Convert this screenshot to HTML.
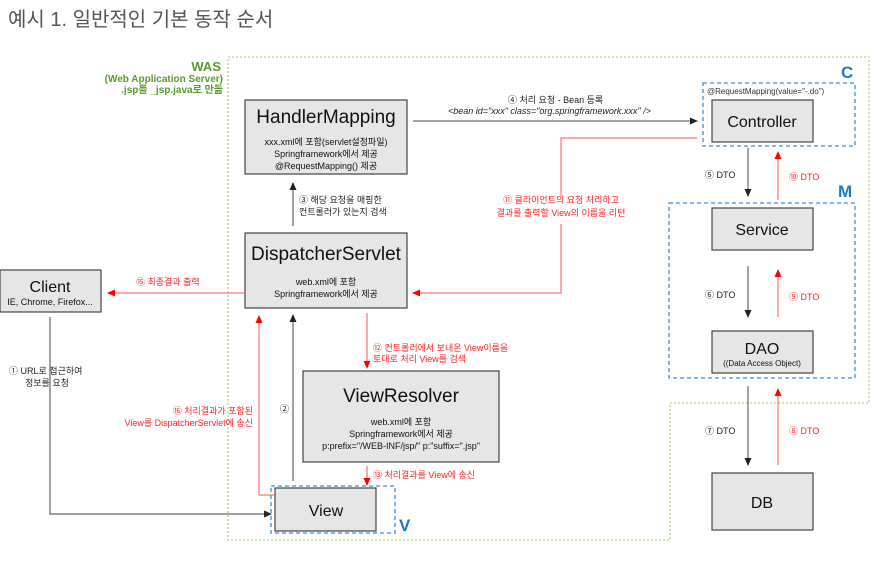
<!DOCTYPE html>
<html><head><meta charset="utf-8"><style>
body{margin:0;background:#fff;}
svg text{font-family:"Liberation Sans","Noto Sans CJK KR",sans-serif;}
</style></head><body>
<svg width="883" height="556" viewBox="0 0 883 556" xmlns="http://www.w3.org/2000/svg">
<defs>
<marker id="ab" markerWidth="8" markerHeight="8" refX="7" refY="4" orient="auto" markerUnits="userSpaceOnUse"><path d="M0,0.5 L8,4 L0,7.5z" fill="#222"/></marker>
<marker id="ar" markerWidth="8" markerHeight="8" refX="7" refY="4" orient="auto" markerUnits="userSpaceOnUse"><path d="M0,0.5 L8,4 L0,7.5z" fill="#f00"/></marker>
</defs>
<text x="8" y="26" font-size="20" fill="#555">예시 1. 일반적인 기본 동작 순서</text>
<!-- WAS -->
<path d="M228,57 H869 V403 H670 V540 H228 Z" fill="none" stroke="#9c6" stroke-width="1" stroke-dasharray="2,2"/>
<g fill="#5a9a2e" font-weight="bold" text-anchor="end">
<text x="221" y="71" font-size="13">WAS</text>
<text x="223" y="82" font-size="10">(Web Application Server)</text>
<text x="223" y="93" font-size="10">.jsp를 _jsp.java로 만듦</text>
</g>
<!-- dashed groups -->
<g fill="none" stroke="#3a8fd8" stroke-width="1.3" stroke-dasharray="4,3">
<rect x="703" y="83" width="152" height="63"/>
<rect x="669" y="203" width="186" height="175"/>
<rect x="271" y="486" width="124" height="47"/>
</g>
<g fill="#1a7acb" font-weight="bold" font-size="17">
<text x="841" y="78">C</text><text x="838" y="197">M</text><text x="399" y="531">V</text>
</g>
<text x="707" y="94" font-size="8" fill="#333">@RequestMapping(value="-.do")</text>
<!-- boxes -->
<g fill="#e6e6e6" stroke="#444" stroke-width="1.2">
<rect x="245" y="100" width="162" height="74"/>
<rect x="245" y="233" width="162" height="75"/>
<rect x="0" y="270" width="101" height="42"/>
<rect x="303" y="371" width="196" height="91"/>
<rect x="275" y="488" width="101" height="43"/>
<rect x="712" y="100" width="101" height="42"/>
<rect x="712" y="208" width="101" height="42"/>
<rect x="712" y="331" width="101" height="42"/>
<rect x="712" y="473" width="101" height="57"/>
</g>
<g text-anchor="middle" fill="#111">
<text x="326" y="123" font-size="19">HandlerMapping</text>
<text x="326" y="145" font-size="9">xxx.xml에 포함(servlet설정파일)</text>
<text x="326" y="157" font-size="9">Springframework에서 제공</text>
<text x="326" y="169" font-size="9">@RequestMapping() 제공</text>
<text x="326" y="260" font-size="19">DispatcherServlet</text>
<text x="326" y="285" font-size="9">web.xml에 포함</text>
<text x="326" y="297" font-size="9">Springframework에서 제공</text>
<text x="50" y="292" font-size="16">Client</text>
<text x="50" y="305" font-size="9">IE, Chrome, Firefox...</text>
<text x="401" y="402" font-size="19">ViewResolver</text>
<text x="401" y="425" font-size="9">web.xml에 포함</text>
<text x="401" y="437" font-size="9">Springframework에서 제공</text>
<text x="401" y="449" font-size="9">p:prefix="/WEB-INF/jsp/" p:"suffix=".jsp"</text>
<text x="326" y="516" font-size="16">View</text>
<text x="762" y="127" font-size="16">Controller</text>
<text x="762" y="235" font-size="16">Service</text>
<text x="762" y="354" font-size="16">DAO</text>
<text x="762" y="366" font-size="8">((Data Access Object)</text>
<text x="762" y="508" font-size="16">DB</text>
</g>
<!-- black arrows -->
<g stroke="#444" stroke-width="1" fill="none" marker-end="url(#ab)">
<line x1="413" y1="121" x2="697" y2="121"/>
<line x1="293" y1="226" x2="293" y2="183"/>
<path d="M50,317 V514 H271"/>
<line x1="293" y1="481" x2="293" y2="315"/>
<line x1="748" y1="148" x2="748" y2="196"/>
<line x1="748" y1="266" x2="748" y2="317"/>
<line x1="748" y1="386" x2="748" y2="465"/>
</g>
<!-- red arrows -->
<g stroke="#f55" stroke-width="1" fill="none" marker-end="url(#ar)">
<path d="M697,138 H561 V293 H413"/>
<line x1="245" y1="293" x2="108" y2="293"/>
<path d="M275,495 H259 V316"/>
<line x1="367" y1="313" x2="367" y2="368"/>
<line x1="367" y1="466" x2="367" y2="485"/>
<line x1="778" y1="200" x2="778" y2="152"/>
<line x1="778" y1="317" x2="778" y2="270"/>
<line x1="778" y1="465" x2="778" y2="389"/>
</g>
<rect x="470" y="196" width="180" height="28" fill="#fff"/>
<!-- labels -->
<g font-size="9" fill="#222">
<text x="508" y="103">④ 처리 요청 - Bean 등록</text>
<text x="448" y="114" font-style="italic">&lt;bean id="xxx" class="org.springframework.xxx" /&gt;</text>
<text x="299" y="203">③ 해당 요청을 매핑한</text>
<text x="299" y="215">컨트롤러가 있는지 검색</text>
<text x="9" y="374">① URL로 접근하여</text>
<text x="25" y="386">정보를 요청</text>
<text x="280" y="412">②</text>
<text x="705" y="178">⑤ DTO</text>
<text x="705" y="298">⑥ DTO</text>
<text x="705" y="434">⑦ DTO</text>
</g>
<g font-size="9" fill="#f22">
<text x="561" y="203" text-anchor="middle">⑪ 클라이언트의 요청 처리하고</text>
<text x="561" y="216" text-anchor="middle">결과를 출력할 View의 이름을 리턴</text>
<text x="136" y="285">⑮ 최종결과 출력</text>
<text x="253" y="414" text-anchor="end">⑯ 처리결과가 포함된</text>
<text x="253" y="426" text-anchor="end">View를 DispatcherServlet에 송신</text>
<text x="373" y="351">⑫ 컨트롤러에서 보내온 View이름을</text>
<text x="373" y="362">토대로 처리 View를 검색</text>
<text x="373" y="478">⑬ 처리결과를 View에 송신</text>
<text x="789" y="180">⑩ DTO</text>
<text x="789" y="300">⑨ DTO</text>
<text x="789" y="434">⑧ DTO</text>
</g>
</svg>
</body></html>
